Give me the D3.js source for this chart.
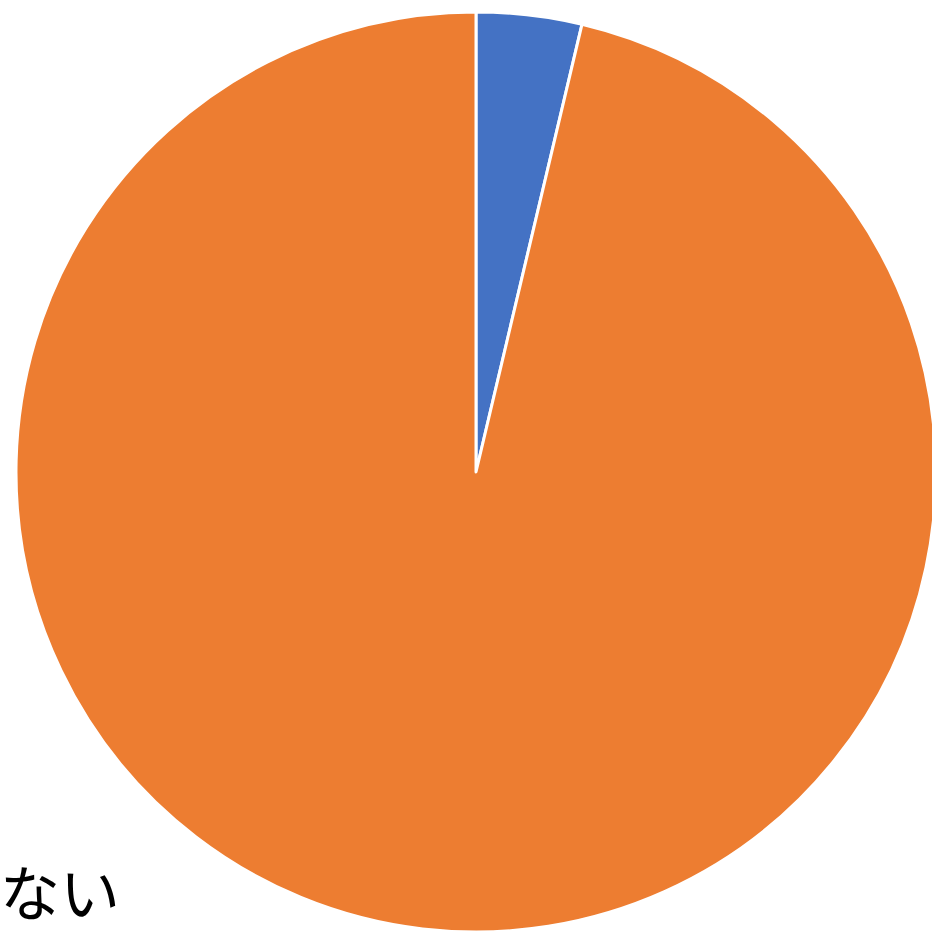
<!DOCTYPE html>
<html><head><meta charset="utf-8">
<script src="https://cdn.jsdelivr.net/npm/d3@7"></script>
<style>html,body{margin:0;padding:0;background:#fff;overflow:hidden}</style>
</head><body>
<script>
const categories = ["ある", "ない"];
const values = [3.7, 96.3];
const colors = ["#4472C4", "#ED7D31"];
const legendLabels = ["ない"];

const W = 932, H = 931;
const svg = d3.select("body").append("svg").attr("width", W).attr("height", H);
const cx = 476, cy = 472, r = 460;
const pie = d3.pie().sort(null).value(d => d)(values);
const arc = d3.arc().innerRadius(0).outerRadius(r);
const color = d3.scaleOrdinal().domain(categories).range(colors);
svg.append("g").attr("transform", `translate(${cx},${cy})`)
  .selectAll("path").data(pie).join("path")
  .attr("d", arc)
  .attr("fill", (d, i) => color(categories[i]))
  .attr("stroke", "#fff").attr("stroke-width", 3).attr("stroke-linejoin", "round");
svg.selectAll("text.leg").data(legendLabels).join("text")
  .attr("class", "leg")
  .attr("x", 0).attr("y", 916)
  .attr("font-family", "'Noto Sans CJK JP', sans-serif")
  .attr("font-size", 60)
  .attr("fill", "#000")
  .text(d => d);
</script>
</body></html>
